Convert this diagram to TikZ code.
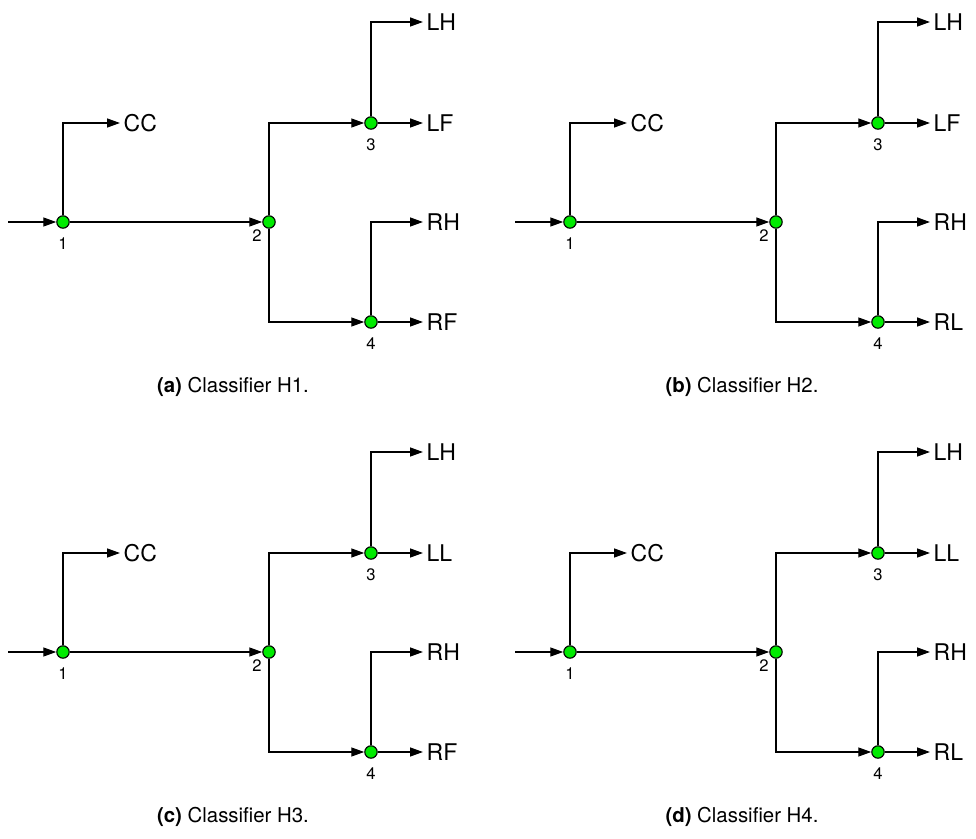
\documentclass[tikz,border=0pt]{standalone}
\usepackage{fontspec}
\setmainfont{TeX Gyre Heros}
\usetikzlibrary{arrows.meta,positioning}
\definecolor{nodegreen}{RGB}{0,235,0}

\begin{document}
\begin{tikzpicture}[x=0.5pt,y=-0.5pt,line width=0.7pt,
  >={Triangle[length=6.5pt,width=4.5pt]},
  junction/.style={circle,draw,fill=nodegreen,inner sep=0pt,minimum size=6.2pt,line width=0.55pt},
  num/.style={font=\fontsize{8.3}{9}\selectfont,inner sep=1pt},
  cls/.style={anchor=west,inner sep=1.5pt,font=\fontsize{11.5}{13}\selectfont}]
  \useasboundingbox (0,0) rectangle (976,839);
  \foreach \p/\dx/\dy/\lb/\rb/\hid in {a/0/0/F/F/1, b/507/0/F/L/2, c/0/430/L/F/3, d/507/430/L/L/4}{
    \begin{scope}[shift={(\dx,\dy)}]
      % junctions
      \coordinate (in\p) at (8,222);
      \node[junction] (n1\p) at (63,222) {};
      \node[junction] (n2\p) at (269,222) {};
      \node[junction] (n3\p) at (371,123) {};
      \node[junction] (n4\p) at (371,322) {};
      \node[num,below=3pt of n1\p] (t1\p) {1};
      \node[num,below left=0.3pt and 0pt of n2\p] (t2\p) {2};
      \node[num,below=3pt of n3\p] (t3\p) {3};
      \node[num,below=3pt of n4\p] (t4\p) {4};
      % classes
      \node[cls] (cc\p) at (120,123) {CC};
      \node[cls] (lh\p) at (423,22) {LH};
      \node[cls] (ll\p) at (423,123) {L\lb};
      \node[cls] (rh\p) at (423,222) {RH};
      \node[cls] (rl\p) at (423,322) {R\rb};
      \draw[->] (in\p) -- (n1\p);
      \draw[->] (n1\p) |- (cc\p.west);
      \draw[->] (n1\p) -- (n2\p);
      \draw[->] (n2\p) |- (n3\p);
      \draw[->] (n2\p) |- (n4\p);
      \draw[->] (n3\p) |- (lh\p.west);
      \draw[->] (n3\p) -- (ll\p.west);
      \draw[->] (n4\p) |- (rh\p.west);
      \draw[->] (n4\p) -- (rl\p.west);
      \node[font=\fontsize{10.2}{12}\selectfont] (cap\p) at (\ifnum\dx=0 233\else 235\fi,387) {\textbf{(\p)} Classifier H\hid.};
    \end{scope}
  }
\end{tikzpicture}
\end{document}
